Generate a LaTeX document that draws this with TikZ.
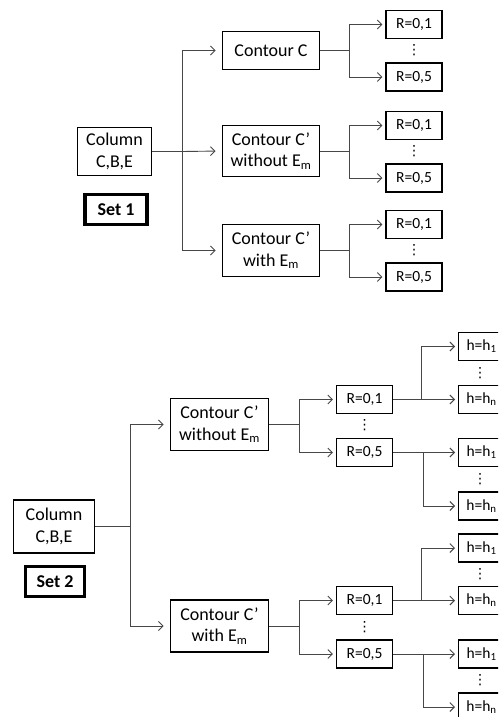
\documentclass[tikz,border=0pt]{standalone}
\usepackage{fontspec}
\setmainfont{Carlito}
\newfontfamily\dejavu{DejaVu Sans}
\usetikzlibrary{arrows.meta}
\begin{document}
\begin{tikzpicture}[x=1pt,y=-1pt,
  big/.style={font=\fontsize{18}{21.6}\selectfont},
  sm/.style={font=\fontsize{15.5}{18}\selectfont},
  colbox/.style={draw, line width=1.4pt, big, align=center, inner sep=0pt},
  setbox/.style={draw, line width=3.5pt, font=\fontsize{18}{21.6}\selectfont\bfseries, inner sep=0pt, minimum width=62, minimum height=30},
  conbox/.style={draw, line width=1.9pt, big, align=center, inner sep=0pt},
  rbox/.style={draw, line width=1.1pt, sm, inner sep=0pt, minimum width=56, minimum height=28},
  dots/.style={font=\dejavu\fontsize{14}{14}\selectfont, inner sep=0pt},
  conn/.style={draw=black!72, line width=0.9pt},
  arr/.style={conn, -{Straight Barb[length=4.5pt,width=9pt,line width=0.9pt]}, shorten >=3pt}
]
\clip (0,0) rectangle (498,717);
\fill[white] (0,0) rectangle (498,717);

% ---------------- Set 1 ----------------
\node[colbox, minimum width=74, minimum height=48] (c1) at (114.5,151.5) {Column\\C,B,E};
\node[setbox] (set1) at (116,209.5) {Set 1};

\node[conbox, minimum width=97, minimum height=38] (k1) at (271,50.5) {Contour C};
\node[conbox, minimum width=97, minimum height=51] (k2) at (271,151) {Contour C’\\without E\textsubscript{m}};
\node[conbox, minimum width=97, minimum height=52] (k3) at (271,250.5) {Contour C’\\with E\textsubscript{m}};

\coordinate (t1) at (182,151.5);
\draw[conn] (c1.east) -- (t1);
\draw[arr, shorten >=6pt] (t1) |- (k1.west);
\draw[arr, shorten >=6pt] (t1) -- (k2.west);
\draw[arr, shorten >=6pt] (t1) |- (k3.west);

\node[rbox] (r11) at (414,24.5) {R=0,1};
\node[rbox] (r12) at (414,77) {R=0,5};
\node[dots] (d1) at (414,50.5) {⋮};
\node[rbox] (r21) at (414,125.5) {R=0,1};
\node[rbox] (r22) at (414,178) {R=0,5};
\node[dots] (d2) at (414,151.5) {⋮};
\node[rbox] (r31) at (414,224.5) {R=0,1};
\node[rbox] (r32) at (414,277) {R=0,5};
\node[dots] (d3) at (414,250.5) {⋮};

\coordinate (s1) at (349,50.5);
\coordinate (s2) at (349,151);
\coordinate (s3) at (349,250.5);
\draw[conn] (k1.east) -- (s1);
\draw[conn] (k2.east) -- (s2);
\draw[conn] (k3.east) -- (s3);
\draw[arr] (s1) |- (r11.west);
\draw[arr] (s1) |- (r12.west);
\draw[arr] (s2) |- (r21.west);
\draw[arr] (s2) |- (r22.west);
\draw[arr] (s3) |- (r31.west);
\draw[arr] (s3) |- (r32.west);

% ---------------- Set 2 ----------------
\node[colbox, minimum width=81, minimum height=53] (c2) at (54,526.5) {Column\\C,B,E};
\node[setbox, minimum width=59] (set2) at (55,581.5) {Set 2};

\node[conbox, minimum width=98, minimum height=52] (ka) at (219.5,424.5) {Contour C’\\without E\textsubscript{m}};
\node[conbox, minimum width=98, minimum height=52] (kb) at (219.5,626) {Contour C’\\with E\textsubscript{m}};

\coordinate (t2) at (130,526.5);
\draw[conn] (c2.east) -- (t2);
\draw[arr, shorten >=6pt] (t2) |- (ka.west);
\draw[arr, shorten >=6pt] (t2) |- (kb.west);

\node[rbox] (ra1) at (364.5,399.5) {R=0,1};
\node[rbox] (ra2) at (364.5,452.5) {R=0,5};
\node[dots] (da) at (364.5,425.5) {⋮};
\node[rbox] (rb1) at (364.5,600.5) {R=0,1};
\node[rbox] (rb2) at (364.5,654) {R=0,5};
\node[dots] (db) at (364.5,627) {⋮};

\coordinate (sa) at (299,424.5);
\coordinate (sb) at (299,626);
\draw[conn] (ka.east) -- (sa);
\draw[conn] (kb.east) -- (sb);
\draw[arr] (sa) |- (ra1.west);
\draw[arr] (sa) |- (ra2.west);
\draw[arr] (sb) |- (rb1.west);
\draw[arr] (sb) |- (rb2.west);

% h boxes
\node[rbox, minimum width=46, anchor=west] (h11) at (458,346.5) {h=h\textsubscript{1}};
\node[rbox, minimum width=46, anchor=west] (h12) at (458,399.5) {h=h\textsubscript{n}};
\node[rbox, minimum width=46, anchor=west] (h21) at (458,452.5) {h=h\textsubscript{1}};
\node[rbox, minimum width=46, anchor=west] (h22) at (458,506) {h=h\textsubscript{n}};
\node[rbox, minimum width=46, anchor=west] (h31) at (458,548) {h=h\textsubscript{1}};
\node[rbox, minimum width=46, anchor=west] (h32) at (458,600.5) {h=h\textsubscript{n}};
\node[rbox, minimum width=46, anchor=west] (h41) at (458,654) {h=h\textsubscript{1}};
\node[rbox, minimum width=46, anchor=west] (h42) at (458,707) {h=h\textsubscript{n}};
\node[dots] (e1) at (480,373) {⋮};
\node[dots] (e2) at (480,479) {⋮};
\node[dots] (e3) at (480,574.5) {⋮};
\node[dots] (e4) at (480,680.5) {⋮};

\coordinate (u1) at (421,399.5);
\coordinate (u2) at (423,452.5);
\coordinate (u3) at (421,600.5);
\coordinate (u4) at (423,654);
\draw[arr] (ra1.east) -- (h12.west);
\draw[arr] (u1) |- (h11.west);
\draw[arr] (ra2.east) -- (h21.west);
\draw[arr] (u2) |- (h22.west);
\draw[arr] (rb1.east) -- (h32.west);
\draw[arr] (u3) |- (h31.west);
\draw[arr] (rb2.east) -- (h41.west);
\draw[arr] (u4) |- (h42.west);
\end{tikzpicture}
\end{document}
